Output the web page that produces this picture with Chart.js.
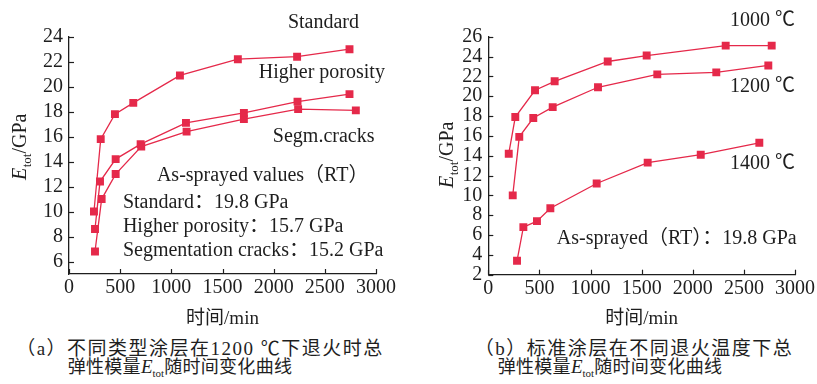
<!DOCTYPE html>
<html>
<head>
<meta charset="utf-8">
<script src="https://cdn.jsdelivr.net/npm/chart.js@4/dist/chart.umd.min.js"></script>
<style>
  html, body { margin: 0; padding: 0; background: #fff; }
  #wrap { position: relative; width: 817px; height: 384px; overflow: hidden; background: #fff; }
  canvas { position: absolute; top: 0; }
  .cap { position: absolute; width: 440px; text-align: center; white-space: nowrap;
         font-family: 'Liberation Serif', 'Noto Sans CJK SC', serif; font-size: 18px;
         letter-spacing: 0.3px; line-height: 18px; color: #1e1e1e; }
  .cap.first { font-size: 19px; letter-spacing: 1.5px; }
  .cap i { font-style: italic; font-size: 19px; letter-spacing: 0; }
  .cap sub { font-size: 11px; vertical-align: baseline; position: relative; top: 4px; letter-spacing: 0; }
</style>
</head>
<body>
<div id="wrap">
  <canvas id="chartA" width="410" height="335" style="left:0"></canvas>
  <canvas id="chartB" width="407" height="335" style="left:410px"></canvas>
  <div class="cap first" style="left:-20px;top:340px">（a）不同类型涂层在1200 ℃下退火时总</div>
  <div class="cap" style="left:-40px;top:358px">弹性模量<i>E</i><sub>tot</sub>随时间变化曲线</div>
  <div class="cap first" style="left:414px;top:340px">（b）标准涂层在不同退火温度下总</div>
  <div class="cap" style="left:390px;top:358px">弹性模量<i>E</i><sub>tot</sub>随时间变化曲线</div>
</div>
<script>
// ---- (a) coating types, annealed at 1200 °C ----
const timeStandard = [244, 310, 449, 628, 1084, 1650, 2229, 2741];
const eStandard    = [10.0, 15.8, 17.8, 18.7, 20.9, 22.2, 22.4, 23.0];
const timePorous   = [254, 303, 456, 700, 1143, 1709, 2233, 2741];
const ePorous      = [8.6, 12.4, 14.2, 15.4, 17.1, 17.9, 18.8, 19.4];
const timeSegm     = [254, 319, 456, 706, 1149, 1709, 2239, 2803];
const eSegm        = [6.8, 11.0, 13.0, 15.2, 16.4, 17.4, 18.2, 18.1];

// ---- (b) standard coating at three annealing temperatures ----
const time1000 = [200, 264, 457, 649, 1168, 1549, 2322, 2772];
const e1000    = [14.2, 17.9, 20.6, 21.5, 23.5, 24.1, 25.1, 25.1];
const time1200 = [239, 303, 440, 630, 1073, 1653, 2230, 2739];
const e1200    = [10.0, 15.9, 17.8, 18.9, 20.9, 22.2, 22.4, 23.1];
const time1400 = [281, 343, 476, 607, 1060, 1559, 2078, 2651];
const e1400    = [3.4, 6.8, 7.4, 8.7, 11.2, 13.3, 14.1, 15.3];

// tick labels
const timeTicks = [0, 500, 1000, 1500, 2000, 2500, 3000];
const eTicksA = [6, 8, 10, 12, 14, 16, 18, 20, 22, 24];
const eTicksB = [2, 4, 6, 8, 10, 12, 14, 16, 18, 20, 22, 24, 26];

const RED = '#e5294a';
const INK = '#1e1e1e';
const FONT = "'Liberation Serif', 'Noto Sans CJK SC', serif";

const pts = (xs, ys) => xs.map((x, i) => ({ x, y: ys[i] }));

function series(label, xs, ys) {
  return {
    label, data: pts(xs, ys), showLine: true,
    borderColor: RED, backgroundColor: RED, borderWidth: 1.3,
    pointStyle: 'rect', pointRadius: 5.6, pointBorderWidth: 0,
    pointBackgroundColor: RED, tension: 0
  };
}

// inward tick marks, in-plot notes and the E_tot/GPa axis title
const decorations = {
  id: 'decorations',
  afterDraw(chart, args, opts) {
    const { ctx, chartArea: ca, scales: { x, y } } = chart;
    ctx.save();
    ctx.strokeStyle = INK; ctx.lineWidth = 1.2;
    x.ticks.forEach(t => {
      const px = Math.round(x.getPixelForValue(t.value)) + 0.5;
      ctx.beginPath(); ctx.moveTo(px, ca.bottom); ctx.lineTo(px, ca.bottom - 5); ctx.stroke();
    });
    y.ticks.forEach(t => {
      const py = Math.round(y.getPixelForValue(t.value)) + 0.5;
      ctx.beginPath(); ctx.moveTo(ca.left, py); ctx.lineTo(ca.left + 5, py); ctx.stroke();
    });

    ctx.fillStyle = INK;
    ctx.font = `20px ${FONT}`;
    ctx.textBaseline = 'middle';
    ctx.textAlign = 'left';
    opts.notes.forEach(n => ctx.fillText(n.text, x.getPixelForValue(n.x), y.getPixelForValue(n.y)));

    // rotated y title with italic E and subscript "tot"
    ctx.translate(ca.left + opts.titleDx, opts.titleY);
    ctx.rotate(-Math.PI / 2);
    ctx.textBaseline = 'alphabetic';
    const fE = `italic 20px ${FONT}`, fSub = `13px ${FONT}`, fMain = `20px ${FONT}`;
    ctx.font = fE; const wE = ctx.measureText('E').width;
    ctx.font = fSub; const wS = ctx.measureText('tot').width;
    ctx.font = fMain; const wM = ctx.measureText('/GPa').width;
    let cx = -(wE + wS + wM) / 2;
    ctx.font = fE; ctx.fillText('E', cx, 7); cx += wE + 0.5;
    ctx.font = fSub; ctx.fillText('tot', cx, 12); cx += wS;
    ctx.font = fMain; ctx.fillText('/GPa', cx, 7);
    ctx.restore();
  }
};

function makeChart(id, datasets, yMin, yMax, yTicks, yWidth, padRight, xHeight, deco) {
  return new Chart(document.getElementById(id), {
    type: 'scatter',
    data: { datasets },
    options: {
      responsive: false, animation: false, devicePixelRatio: 1,
      layout: { padding: { top: 36.7, left: 0, right: padRight, bottom: 0 } },
      plugins: { legend: { display: false }, tooltip: { enabled: false }, decorations: deco },
      scales: {
        x: {
          type: 'linear', min: 0, max: 3000,
          afterBuildTicks: s => { s.ticks = timeTicks.map(v => ({ value: v })); },
          afterFit: s => { s.height = xHeight; },
          grid: { display: false, drawTicks: false },
          border: { display: true, color: INK, width: 1.3 },
          ticks: { color: INK, padding: 2, autoSkip: false, maxRotation: 0,
                   font: { family: FONT, size: 20 }, callback: v => String(v) },
          title: { display: true, text: '时间/min', color: INK, padding: { top: 0, bottom: 5 },
                   font: { family: FONT, size: 19 } }
        },
        y: {
          type: 'linear', min: yMin, max: yMax,
          afterBuildTicks: s => { s.ticks = yTicks.map(v => ({ value: v })); },
          afterFit: s => { s.width = yWidth; },
          grid: { display: false, drawTicks: false },
          border: { display: true, color: INK, width: 1.3 },
          ticks: { color: INK, padding: 6, autoSkip: false,
                   font: { family: FONT, size: 20 }, callback: v => String(v) }
        }
      }
    },
    plugins: [decorations]
  });
}

makeChart('chartA', [
  series('Standard', timeStandard, eStandard),
  series('Higher porosity', timePorous, ePorous),
  series('Segm.cracks', timeSegm, eSegm)
], 5, 24, eTicksA, 69, 34, 61, {
  titleDx: -50, titleY: 147,
  notes: [
    { text: 'Standard', x: 2139, y: 25.1 },
    { text: 'Higher porosity', x: 1855, y: 21.1 },
    { text: 'Segm.cracks', x: 1992, y: 16.0 },
    { text: 'As-sprayed values（RT）', x: 859, y: 12.9 },
    { text: 'Standard：19.8 GPa', x: 527, y: 10.7 },
    { text: 'Higher porosity：15.7 GPa', x: 527, y: 8.8 },
    { text: 'Segmentation cracks：15.2 GPa', x: 527, y: 6.9 }
  ]
});

makeChart('chartB', [
  series('1000 ℃', time1000, e1000),
  series('1200 ℃', time1200, e1200),
  series('1400 ℃', time1400, e1400)
], 2, 26, eTicksB, 78.3, 22, 60.3, {
  titleDx: -42, titleY: 155,
  notes: [
    { text: '1000 ℃', x: 2364, y: 27.6 },
    { text: '1200 ℃', x: 2364, y: 21.0 },
    { text: '1400 ℃', x: 2364, y: 13.2 },
    { text: 'As-sprayed（RT）：19.8 GPa', x: 670, y: 5.6 }
  ]
});
</script>
</body>
</html>
